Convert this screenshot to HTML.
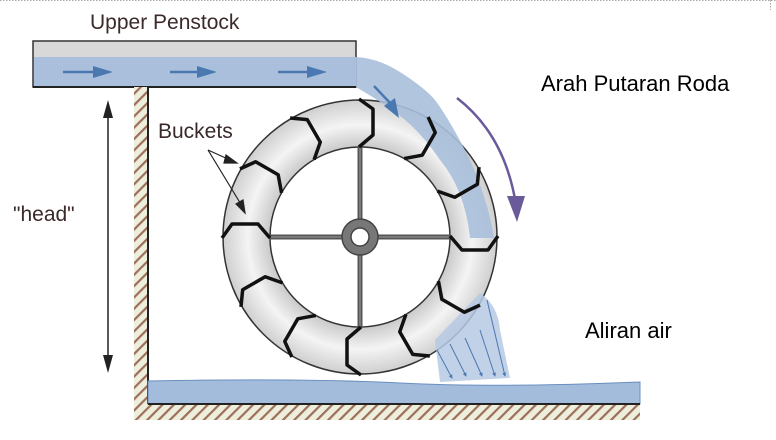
<!DOCTYPE html>
<html><head><meta charset="utf-8"><style>
html,body{margin:0;padding:0;background:#fff;}
svg{display:block}
text{font-family:"Liberation Sans",sans-serif}
</style></head><body>
<svg width="776" height="440" viewBox="0 0 776 440" xmlns="http://www.w3.org/2000/svg">
<defs>
<pattern id="h" width="8" height="8" patternUnits="userSpaceOnUse" patternTransform="rotate(45)">
<rect width="8" height="8" fill="#eeeedd"/><rect width="2.2" height="8" fill="#9c6f5a"/>
</pattern>
<radialGradient id="rg" cx="360" cy="237" r="137" gradientUnits="userSpaceOnUse">
<stop offset="0.65" stop-color="#c8c8c8"/><stop offset="0.82" stop-color="#f4f4f4"/><stop offset="1" stop-color="#cfcfcf"/>
</radialGradient>
<marker id="ba" viewBox="0 0 10 10" refX="8" refY="5" markerWidth="4" markerHeight="4" orient="auto"><path d="M0,0L10,5L0,10z" fill="#4a78b0"/></marker>
</defs>
<line x1="0" y1="0.5" x2="776" y2="0.5" stroke="#aaa" stroke-dasharray="1.5,1.5"/>
<line x1="770.5" y1="0" x2="770.5" y2="10" stroke="#aaa" stroke-dasharray="1.5,1.5"/>
<text x="90" y="29" font-size="21" fill="#3a2a2a">Upper Penstock</text>
<rect x="33" y="41" width="323" height="46" fill="#d8d8d8" stroke="#333" stroke-width="1.5"/>
<rect x="34" y="57" width="322" height="30" fill="#a9bfdc"/>
<line x1="33" y1="87" x2="356" y2="87" stroke="#222" stroke-width="2"/>
<rect x="134" y="87" width="14" height="332" fill="url(#h)"/>
<rect x="134" y="404" width="506" height="16" fill="url(#h)"/>
<line x1="148" y1="87" x2="148" y2="404" stroke="#222" stroke-width="2"/>
<path d="M148,381 Q300,378 400,383 T640,382 L640,404 L148,404 Z" fill="#a4bcdc" stroke="#6a8fc0" stroke-width="1"/>
<line x1="148" y1="404" x2="640" y2="404" stroke="#222" stroke-width="2"/>
<circle cx="360" cy="237" r="113" fill="none" stroke="url(#rg)" stroke-width="47"/>
<circle cx="360" cy="237" r="137" fill="none" stroke="#333" stroke-width="1.5"/>
<circle cx="360" cy="237" r="90" fill="#fff" stroke="#333" stroke-width="1.5"/>
<path d="M356,57 Q378,58 400,72 Q425,88 435,100 Q450,120 470,160 Q488,200 494,238 L470,238 Q465,190 440,160 Q420,130 395,112 Q375,98 356,87 Z" fill="#a9bfdc" opacity="0.9"/>
<path d="M435,340 L480,293 Q498,305 500,330 L510,378 L440,382 Z" fill="#b6cae4" opacity="0.85"/>
<g stroke="#555" stroke-width="5"><line x1="270" y1="237" x2="450" y2="237"/><line x1="360" y1="147" x2="360" y2="327"/></g>
<g stroke="#888" stroke-width="1.5"><line x1="270" y1="237" x2="450" y2="237"/><line x1="360" y1="147" x2="360" y2="327"/></g>
<circle cx="360" cy="237" r="18" fill="#777" stroke="#444" stroke-width="1.5"/>
<circle cx="360" cy="237" r="9" fill="#fff" stroke="#444" stroke-width="1.5"/>
<g fill="none" stroke="#111" stroke-width="3.5" stroke-linejoin="round">
<g id="b"><polyline points="359,99 373,109 373,135 359,147"/></g>
<use href="#b" transform="rotate(30 360 237)"/>
<use href="#b" transform="rotate(60 360 237)"/>
<use href="#b" transform="rotate(90 360 237)"/>
<use href="#b" transform="rotate(120 360 237)"/>
<use href="#b" transform="rotate(150 360 237)"/>
<use href="#b" transform="rotate(180 360 237)"/>
<use href="#b" transform="rotate(210 360 237)"/>
<use href="#b" transform="rotate(240 360 237)"/>
<use href="#b" transform="rotate(270 360 237)"/>
<use href="#b" transform="rotate(300 360 237)"/>
<use href="#b" transform="rotate(330 360 237)"/>
</g>
<g stroke="#4a78b0" stroke-width="2.5" fill="#4a78b0">
<line x1="63" y1="72" x2="98" y2="72"/><path d="M93,66 L113,72 L93,78Z" stroke="none"/>
<line x1="170" y1="72" x2="200" y2="72"/><path d="M197,66 L217,72 L197,78Z" stroke="none"/>
<line x1="278" y1="72" x2="310" y2="72"/><path d="M307,66 L327,72 L307,78Z" stroke="none"/>
<line x1="374" y1="86" x2="392" y2="105"/><path d="M384,106 L399,118 L395,98Z" stroke="none"/>
</g>
<g stroke="#4a78b0" stroke-width="1" marker-end="url(#ba)">
<line x1="437" y1="350" x2="452" y2="378"/><line x1="450" y1="344" x2="466" y2="376"/>
<line x1="465" y1="338" x2="482" y2="376"/><line x1="480" y1="330" x2="495" y2="376"/>
<line x1="487" y1="300" x2="505" y2="376"/>
</g>
<path d="M457,98 Q505,135 516,205" fill="none" stroke="#6a5a9a" stroke-width="2.5"/>
<path d="M507,196 L525,196 L517,222Z" fill="#6a5a9a"/>
<line x1="108" y1="112" x2="108" y2="360" stroke="#222" stroke-width="1.5"/>
<path d="M103,118 L108,100 L113,118Z M103,355 L108,373 L113,355Z" fill="#222"/>
<text x="13" y="221" font-size="21" fill="#3a2a2a">"head"</text>
<text x="158" y="138" font-size="21" fill="#3a2a2a">Buckets</text>
<g stroke="#222" stroke-width="1.2" fill="#222">
<line x1="208" y1="150" x2="230" y2="160"/><path d="M226,155 L237,163 L224,163Z"/>
<line x1="208" y1="150" x2="242" y2="206"/><path d="M236,204 L245,213 L243,200Z"/>
</g>
<text x="541" y="91" font-size="22" fill="#000">Arah Putaran Roda</text>
<text x="585" y="338" font-size="22" fill="#000">Aliran air</text>
</svg>
</body></html>
